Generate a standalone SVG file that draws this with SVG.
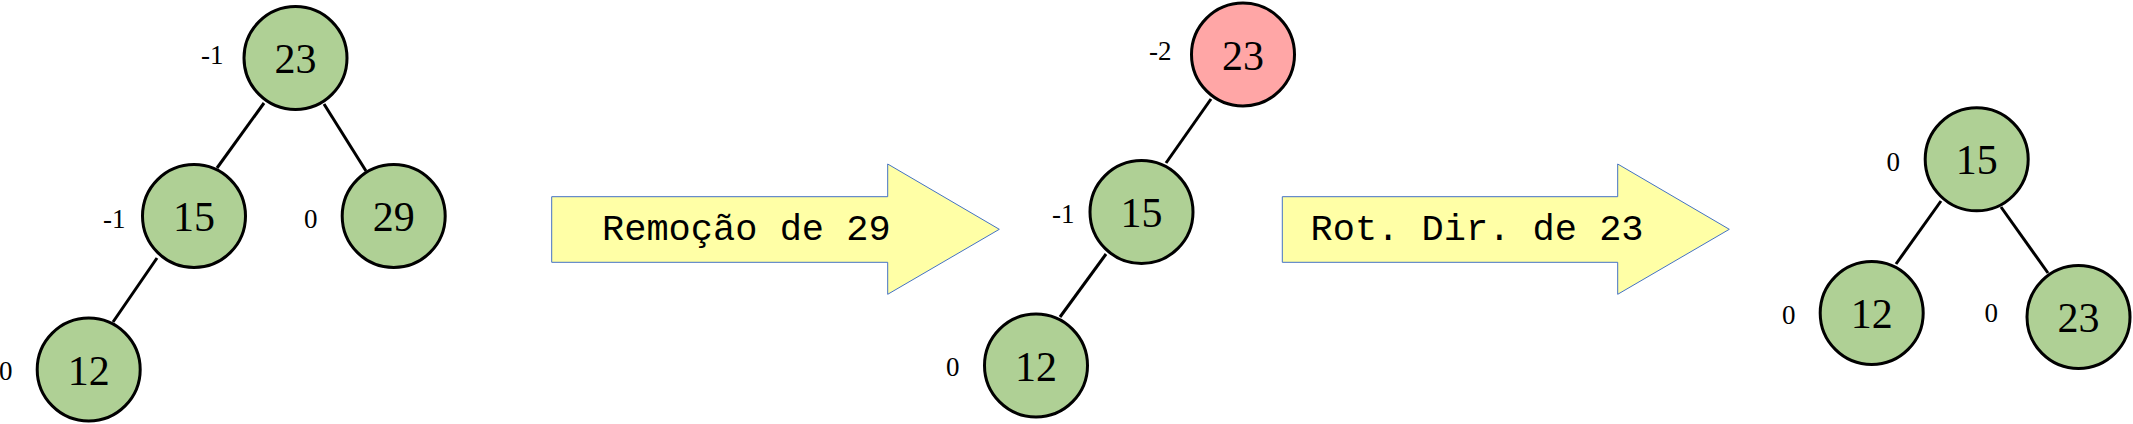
<svg xmlns="http://www.w3.org/2000/svg" width="2133" height="424" viewBox="0 0 2133 424">
<style>
.n{fill:#afd095;stroke:#000;stroke-width:3}
.r{fill:#ffa6a6;stroke:#000;stroke-width:3}
.v{font-family:"Liberation Serif","Times New Roman",serif;font-size:42px;text-anchor:middle;fill:#000}
.b{font-family:"Liberation Serif","Times New Roman",serif;font-size:27px;fill:#000}
.e{stroke:#000;stroke-width:3;fill:none}
.a{fill:#ffffa6;stroke:#4472c4;stroke-width:1}
.t{font-family:"Liberation Mono","Courier New",monospace;font-size:37px;fill:#000}
</style>
<rect width="2133" height="424" fill="#fff"/>
<g id="connectors">
<line class="e" x1="264" y1="103" x2="217" y2="168"/>
<line class="e" x1="324" y1="104" x2="366" y2="171"/>
<line class="e" x1="157" y1="258" x2="113" y2="322"/>
<line class="e" x1="1211" y1="99" x2="1166" y2="163"/>
<line class="e" x1="1106" y1="254" x2="1060" y2="317"/>
<line class="e" x1="1941" y1="201" x2="1896" y2="264"/>
<line class="e" x1="2001" y1="207" x2="2048" y2="273"/>
</g>
<g id="t1-23"><circle class="n" cx="295.5" cy="58" r="51.5"/><text class="v" x="295.5" y="73">23</text><text class="b" x="201" y="64">-1</text></g>
<g id="t1-15"><circle class="n" cx="194" cy="216" r="51.5"/><text class="v" x="194" y="231">15</text><text class="b" x="103" y="228">-1</text></g>
<g id="t1-29"><circle class="n" cx="393.7" cy="216" r="51.5"/><text class="v" x="393.7" y="231">29</text><text class="b" x="304" y="228">0</text></g>
<g id="t1-12"><circle class="n" cx="88.7" cy="369.5" r="51.5"/><text class="v" x="88.7" y="384.5">12</text><text class="b" x="-1" y="380">0</text></g>
<g id="arrow1"><path class="a" d="M551.7,196.7 H887.7 V164 L999.3,229.3 L887.7,294.3 V262.3 H551.7 Z"/><text class="t" x="602" y="240">Remoção de 29</text></g>
<g id="t2-23"><circle class="r" cx="1243" cy="54.5" r="51.5"/><text class="v" x="1243" y="69.5">23</text><text class="b" x="1149" y="60">-2</text></g>
<g id="t2-15"><circle class="n" cx="1141.5" cy="212" r="51.5"/><text class="v" x="1141.5" y="227">15</text><text class="b" x="1052" y="223">-1</text></g>
<g id="t2-12"><circle class="n" cx="1036" cy="365.5" r="51.5"/><text class="v" x="1036" y="380.5">12</text><text class="b" x="946" y="376">0</text></g>
<g id="arrow2"><path class="a" d="M1282.3,196.7 H1617.7 V164 L1729.3,229.3 L1617.7,294.3 V262.3 H1282.3 Z"/><text class="t" x="1310.5" y="240">Rot. Dir. de 23</text></g>
<g id="t3-15"><circle class="n" cx="1976.7" cy="159.3" r="51.5"/><text class="v" x="1976.7" y="174.3">15</text><text class="b" x="1886.5" y="171">0</text></g>
<g id="t3-12"><circle class="n" cx="1871.7" cy="313" r="51.5"/><text class="v" x="1871.7" y="328">12</text><text class="b" x="1782" y="324">0</text></g>
<g id="t3-23"><circle class="n" cx="2078.5" cy="317" r="51.5"/><text class="v" x="2078.5" y="332">23</text><text class="b" x="1984.5" y="322">0</text></g>
</svg>
